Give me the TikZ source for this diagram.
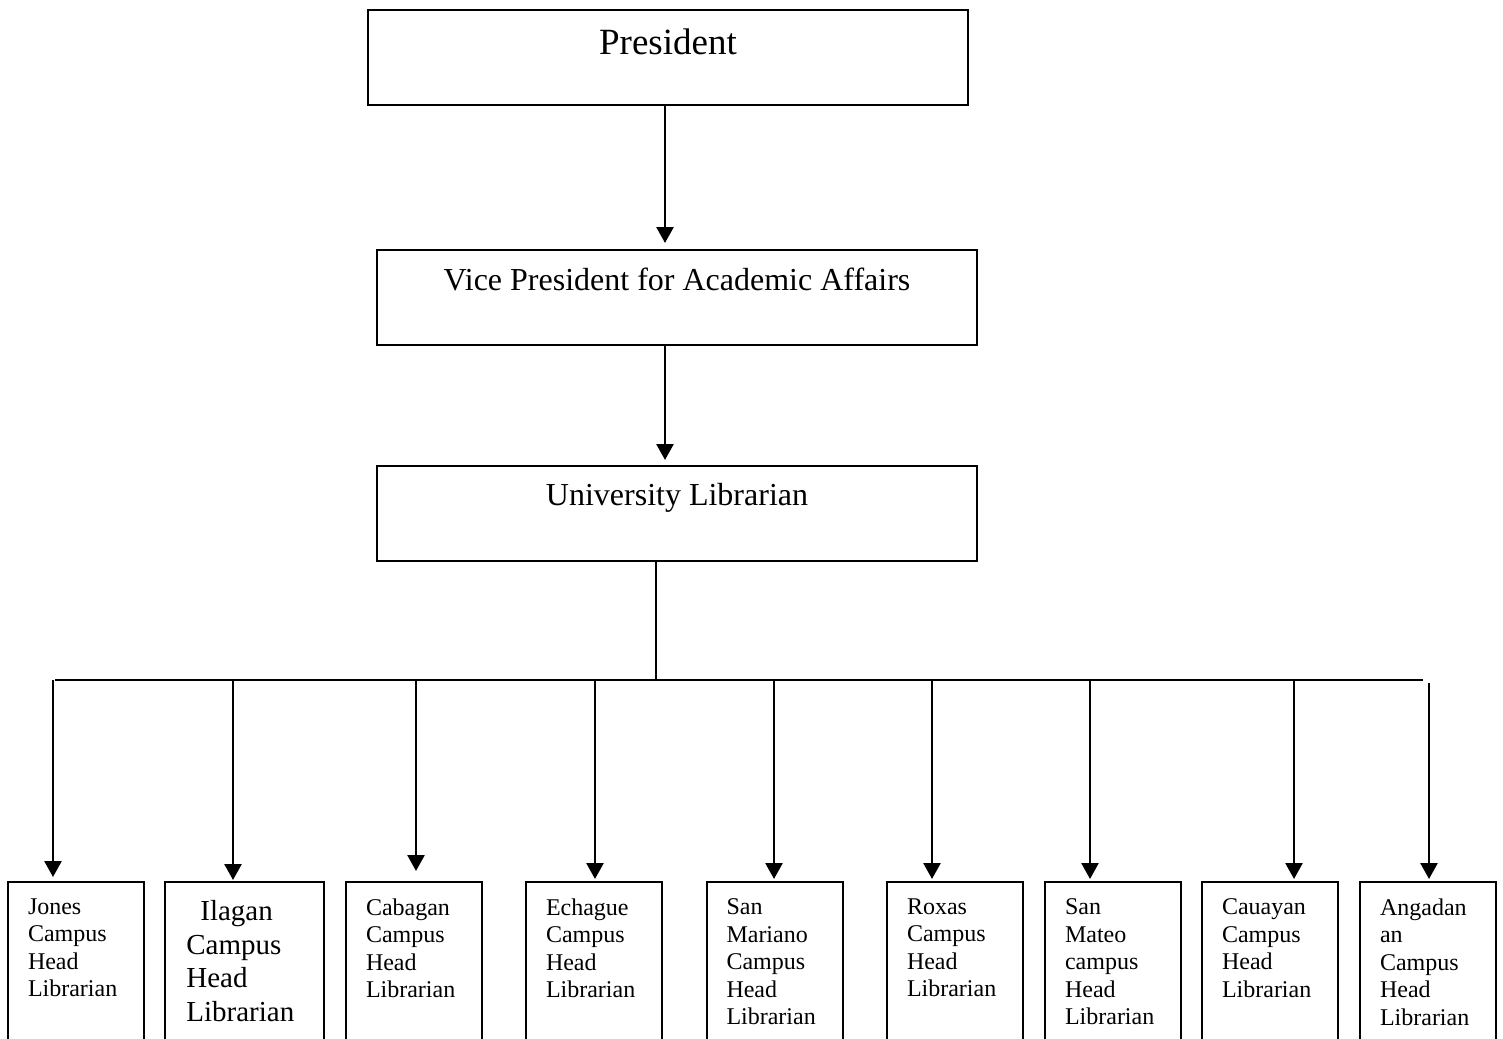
\documentclass[tikz,border=0pt]{standalone}
\usepackage{fontspec}
\setmainfont{Liberation Serif}
\usetikzlibrary{arrows.meta, positioning}

\begin{document}
\begin{tikzpicture}[x=0.5pt, y=-0.5pt,
    officebox/.style={draw, line width=1pt, minimum width=300pt, minimum height=47.5pt, anchor=north, inner sep=0pt},
    officetext/.style={anchor=north, inner sep=0pt, font=\fontsize{16}{19}\selectfont},
    campusbox/.style={draw, line width=1pt, minimum width=68pt, minimum height=84.5pt, anchor=north, inner sep=0pt},
    campustext/.style={anchor=north west, align=left, inner sep=0pt, xshift=10.3pt, yshift=-8.6pt, font=\fontsize{12}{13.75}\selectfont},
    link/.style={line width=1.3pt},
    linkarrow/.style={line width=1.3pt, -{Triangle[width=8.5pt, length=8pt]}},
  ]
  \clip (0,0) rectangle (1503,1038);
  % offices
  \node[officebox, label={[officetext, yshift=-9.9pt, font=\fontsize{18.5}{22}\selectfont]north:President}] (pres) at (668,9) {};
  \node[officebox, label={[officetext, yshift=-9.3pt]north:Vice President for Academic Affairs}] (vp) at (677,249) {};
  \node[officebox, label={[officetext, yshift=-9.1pt]north:University Librarian}] (ul) at (677,465) {};
  % campus head librarians
  \node[campusbox, label={[campustext]north west:Jones\\Campus\\Head\\Librarian}] (jones) at (76,881) {};
  \node[campusbox, minimum width=79.5pt, label={[campustext, xshift=0.7pt, yshift=-0.8pt, font=\fontsize{14.5}{16.85}\selectfont]north west:\hspace{7pt}Ilagan\\Campus\\Head\\Librarian}] (ilagan) at (244.5,881) {};
  \node[campusbox, label={[campustext]north west:Cabagan\\Campus\\Head\\Librarian}] (cabagan) at (414,881) {};
  \node[campusbox, label={[campustext]north west:Echague\\Campus\\Head\\Librarian}] (echague) at (594,881) {};
  \node[campusbox, label={[campustext]north west:San\\Mariano\\Campus\\Head\\Librarian}] (smariano) at (774.5,881) {};
  \node[campusbox, label={[campustext]north west:Roxas\\Campus\\Head\\Librarian}] (roxas) at (955,881) {};
  \node[campusbox, label={[campustext]north west:San\\Mateo\\campus\\Head\\Librarian}] (smateo) at (1113,881) {};
  \node[campusbox, label={[campustext]north west:Cauayan\\Campus\\Head\\Librarian}] (cauayan) at (1270,881) {};
  \node[campusbox, label={[campustext]north west:Angadan\\an\\Campus\\Head\\Librarian}] (angadanan) at (1428,881) {};
  % bus line
  \coordinate (busL) at (55,680);
  \coordinate (busR) at (1423,680);
  \draw[link] (busL) -- (busR);
  \draw[link] ([xshift=-10.5pt]ul.south) -- ([xshift=-10.5pt]ul.south |- busL);
  % arrows
  \draw[linkarrow, shorten >=3pt] ([xshift=-1.5pt]pres.south) -- ([xshift=-1.5pt]pres.south |- vp.north);
  \draw[linkarrow, shorten >=2.5pt] ([xshift=-6pt]vp.south) -- ([xshift=-6pt]vp.south |- ul.north);
  \foreach \campus/\ax/\ay/\gap in {jones/53/680/2pt, ilagan/233/680/0.5pt, cabagan/416/680/5pt,
      echague/595/680/1pt, smariano/774/680/1pt, roxas/932/680/1pt, smateo/1090/680/1pt,
      cauayan/1294/680/1pt, angadanan/1429/683/1pt}{
    \coordinate (drop-\campus) at (\ax,\ay);
    \draw[linkarrow, shorten >=\gap] (drop-\campus) -- (drop-\campus |- \campus.north);
  }
\end{tikzpicture}
\end{document}
